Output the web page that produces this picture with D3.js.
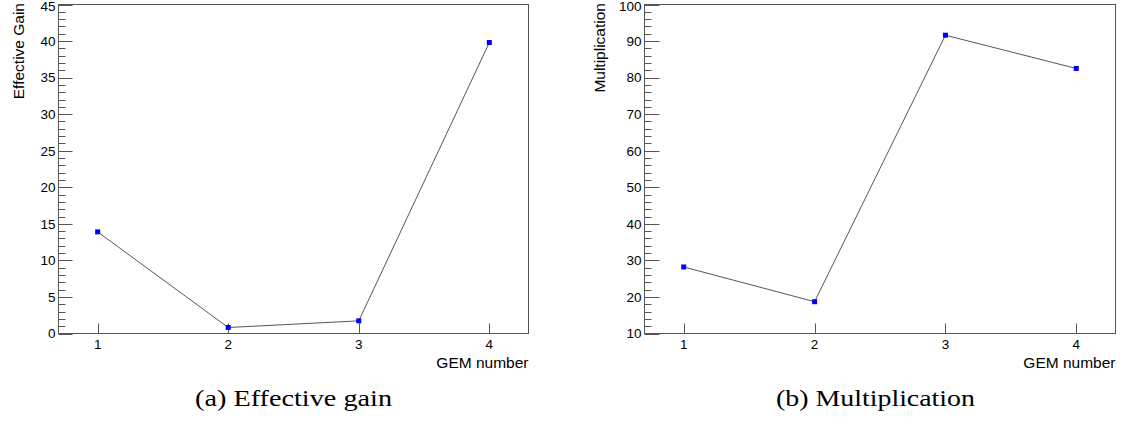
<!DOCTYPE html>
<html>
<head>
<meta charset="utf-8">
<script src="https://cdn.jsdelivr.net/npm/d3@7/dist/d3.min.js"></script>
<style>
  html, body { margin: 0; padding: 0; background: #fff; }
  svg { display: block; }
  .tick-label { font-family: "Liberation Sans", Arial, sans-serif; font-size: 13.5px; fill: #000; }
  .axis-title { font-family: "Liberation Sans", Arial, sans-serif; font-size: 15.5px; fill: #000; }
  .caption { font-family: "Liberation Serif", "Times New Roman", serif; font-size: 23px; fill: #000; }
</style>
</head>
<body>
<svg id="chart" width="1121" height="427"></svg>
<script>
// ---- data ----
const gemNumbers = [1, 2, 3, 4];
const effectiveGain = [13.9, 0.82, 1.73, 39.8];
const multiplication = [28.2, 18.7, 91.6, 82.5];
const xTickLabels = ["1", "2", "3", "4"];
const gainTicks = [0, 5, 10, 15, 20, 25, 30, 35, 40, 45];
const multTicks = [10, 20, 30, 40, 50, 60, 70, 80, 90, 100];
const yTitles = ["Effective Gain", "Multiplication"];
const xTitle = "GEM number";
const captions = ["(a) Effective gain", "(b) Multiplication"];

const svg = d3.select("#chart");

const panels = [
  { values: effectiveGain, ticks: gainTicks, minorStep: 1, yDomain: [0, 45],
    left: 58.5, right: 528.5, top: 4.5, bottom: 333.5, title: yTitles[0], titleX: 24,
    caption: captions[0], capX: 293.5, capW: 197, majorLen: 14 },
  { values: multiplication, ticks: multTicks, minorStep: 2, yDomain: [10, 100],
    left: 644.5, right: 1115.5, top: 4.5, bottom: 333.5, title: yTitles[1], titleX: 605,
    caption: captions[1], capX: 875.5, capW: 199, majorLen: 15 }
];

panels.forEach(p => {
  const g = svg.append("g");
  const x = d3.scaleLinear().domain([0.7, 4.3]).range([p.left, p.right]);
  const y = d3.scaleLinear().domain(p.yDomain).range([p.bottom, p.top]);

  // frame
  g.append("rect")
    .attr("x", p.left).attr("y", p.top)
    .attr("width", p.right - p.left).attr("height", p.bottom - p.top)
    .attr("fill", "none").attr("stroke", "#555").attr("stroke-width", 1);

  // y minor ticks
  const minors = d3.range(p.yDomain[0], p.yDomain[1] + 1e-9, p.minorStep)
    .filter(v => !p.ticks.includes(v));
  g.selectAll(".ymin").data(minors).enter().append("line")
    .attr("x1", p.left).attr("x2", p.left + 7)
    .attr("y1", d => Math.round(y(d)) + 0.5).attr("y2", d => Math.round(y(d)) + 0.5)
    .attr("stroke", "#555").attr("stroke-width", 1);

  // y major ticks
  g.selectAll(".ymaj").data(p.ticks).enter().append("line")
    .attr("x1", p.left).attr("x2", p.left + p.majorLen)
    .attr("y1", d => Math.round(y(d)) + 0.5).attr("y2", d => Math.round(y(d)) + 0.5)
    .attr("stroke", "#555").attr("stroke-width", 1);

  g.selectAll(".ylab").data(p.ticks).enter().append("text")
    .attr("class", "tick-label")
    .attr("x", p.left - 3).attr("y", d => Math.max(y(d) + 4.8, 11))
    .attr("text-anchor", "end")
    .text(d => d);

  // x ticks
  g.selectAll(".xmaj").data(gemNumbers).enter().append("line")
    .attr("x1", d => Math.round(x(d)) + 0.5).attr("x2", d => Math.round(x(d)) + 0.5)
    .attr("y1", p.bottom).attr("y2", p.bottom - 10)
    .attr("stroke", "#555").attr("stroke-width", 1);

  g.selectAll(".xlab").data(gemNumbers).enter().append("text")
    .attr("class", "tick-label")
    .attr("x", d => x(d)).attr("y", p.bottom + 15)
    .attr("text-anchor", "middle")
    .text((d, i) => xTickLabels[i]);

  // axis titles
  g.append("text").attr("class", "axis-title")
    .attr("x", p.right).attr("y", p.bottom + 34)
    .attr("text-anchor", "end")
    .text(xTitle);

  g.append("text").attr("class", "axis-title")
    .attr("transform", `translate(${p.titleX},${p.top - 1.5}) rotate(-90)`)
    .attr("text-anchor", "end")
    .text(p.title);

  // line
  const line = d3.line().x((d, i) => x(gemNumbers[i])).y(d => y(d));
  g.append("path").datum(p.values)
    .attr("d", line)
    .attr("fill", "none").attr("stroke", "#444").attr("stroke-width", 0.9);

  // markers
  g.selectAll(".mk").data(p.values).enter().append("rect")
    .attr("x", (d, i) => x(gemNumbers[i]) - 2.5)
    .attr("y", d => y(d) - 2.5)
    .attr("width", 5).attr("height", 5)
    .attr("fill", "#0000ff");

  // caption
  g.append("text").attr("class", "caption")
    .attr("x", p.capX).attr("y", 406)
    .attr("text-anchor", "middle")
    .attr("textLength", p.capW).attr("lengthAdjust", "spacingAndGlyphs")
    .text(p.caption);
});
</script>
</body>
</html>
